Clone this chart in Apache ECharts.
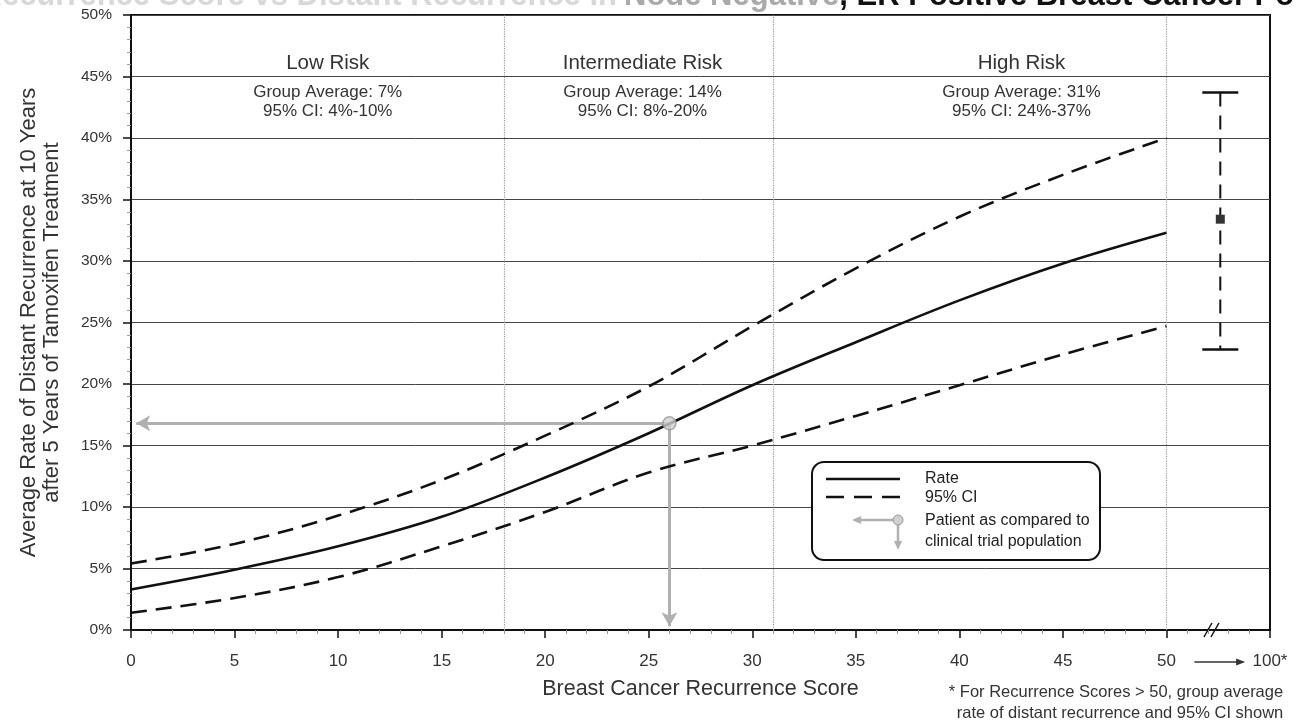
<!DOCTYPE html>
<html><head><meta charset="utf-8">
<script src="https://cdn.jsdelivr.net/npm/echarts@6/dist/echarts.min.js"></script>
<style>html,body{margin:0;padding:0;background:#fff}#c{width:1296px;height:727px}</style>
</head><body><div id="c"></div>
<script>
// ---- data ----
const scores   = [0, 5, 10, 15, 20, 25, 30, 35, 40, 45, 50];
const rate     = [3.3, 4.9, 6.8, 9.2, 12.4, 16.0, 19.9, 23.4, 26.8, 29.8, 32.3];
const ciUpper  = [5.4, 7.0, 9.3, 12.2, 15.8, 19.8, 24.7, 29.4, 33.6, 37.0, 40.0];
const ciLower  = [1.4, 2.6, 4.3, 6.8, 9.6, 12.8, 15.0, 17.4, 19.9, 22.4, 24.7];
const riskBoundaries = [18, 31, 50];
const riskNames = ['Low Risk', 'Intermediate Risk', 'High Risk'];
const riskAvg   = ['Group Average: 7%', 'Group Average: 14%', 'Group Average: 31%'];
const riskCI    = ['95% CI: 4%-10%', '95% CI: 8%-20%', '95% CI: 24%-37%'];
const patient   = [26, 16.8];
const over50    = [52.6, 22.8, 33.4, 43.7]; // x, low, mid, high
const yTicks    = [0, 5, 10, 15, 20, 25, 30, 35, 40, 45, 50];

const FONT = '"Liberation Sans", Arial, sans-serif';
const chart = echarts.init(document.getElementById('c'), null, {renderer: 'canvas'});
const pairs = a => scores.map((s, i) => [s, a[i]]);

chart.setOption({
  animation: false,
  textStyle: {fontFamily: FONT},
  grid: {left: 131, right: 26, top: 15, bottom: 97, containLabel: false, outerBoundsMode: 'none',
         show: true, borderColor: '#111', borderWidth: 2, backgroundColor: 'transparent'},
  xAxis: {
    type: 'value', min: 0, max: 55, interval: 5,
    name: 'Breast Cancer Recurrence Score', nameLocation: 'middle', nameGap: 48,
    nameTextStyle: {fontSize: 21.5, color: '#333', fontFamily: FONT},
    axisLine: {show: true, lineStyle: {color: '#111', width: 2}},
    axisTick: {show: true, length: 8, lineStyle: {color: '#111', width: 1.5}},
    minorTick: {show: true, splitNumber: 5, length: 4, lineStyle: {color: '#999'}},
    splitLine: {show: false},
    axisLabel: {fontSize: 17, color: '#333', margin: 23, fontFamily: FONT,
      formatter: v => v === 55 ? '100*' : String(v)}
  },
  yAxis: {
    type: 'value', min: 0, max: 50, interval: 5,
    name: 'Average Rate of Distant Recurrence at 10 Years\nafter 5 Years of Tamoxifen Treatment',
    nameLocation: 'middle', nameGap: 68, nameRotate: 90,
    nameTextStyle: {fontSize: 22, color: '#333', lineHeight: 23, fontFamily: FONT},
    axisLine: {show: true, lineStyle: {color: '#111', width: 2}},
    axisTick: {show: true, length: 8, lineStyle: {color: '#111', width: 1.5}},
    minorTick: {show: true, splitNumber: 5, length: 4, lineStyle: {color: '#999'}},
    splitLine: {show: true, lineStyle: {color: '#444', width: 1}},
    axisLabel: {fontSize: 15.5, color: '#333', margin: 19, fontFamily: FONT,
      formatter: v => yTicks.includes(v) ? v + '%' : ''}
  },
  series: [
    {
      name: 'Rate', type: 'line', data: pairs(rate), smooth: 0.35, symbol: 'none',
      lineStyle: {color: '#111', width: 2.6}, z: 5,
      markLine: {
        silent: true, symbol: ['none', 'none'], label: {show: false},
        lineStyle: {color: '#999', type: 'dotted', width: 1.2},
        data: riskBoundaries.map(b => [{coord: [b, 0]}, {coord: [b, 50]}])
      }
    },
    {
      name: '95% CI', type: 'line', data: pairs(ciUpper), smooth: 0.35, symbol: 'none',
      lineStyle: {color: '#111', width: 2.6, type: [16, 9]}, z: 5
    },
    {
      name: '95% CI low', type: 'line', data: pairs(ciLower), smooth: 0.35, symbol: 'none',
      lineStyle: {color: '#111', width: 2.6, type: [16, 9]}, z: 5
    },
    {
      name: 'Patient', type: 'scatter', data: [patient], symbol: 'circle', symbolSize: 13,
      itemStyle: {color: '#d0d0d0', borderColor: '#999', borderWidth: 1.5}, z: 8,
      markLine: {
        silent: true, symbol: ['none', 'arrow'], symbolSize: [12, 14], label: {show: false},
        lineStyle: {color: '#b0b0b0', width: 3, type: 'solid'},
        data: [
          [{coord: [patient[0], patient[1]]}, {coord: [0.25, patient[1]]}],
          [{coord: [patient[0], patient[1]]}, {coord: [patient[0], 0.3]}]
        ]
      }
    },
    {
      name: 'Over 50', type: 'custom', data: [over50], z: 6,
      renderItem: (params, api) => {
        const x = api.value(0);
        const lo = api.coord([x, api.value(1)]);
        const mid = api.coord([x, api.value(2)]);
        const hi = api.coord([x, api.value(3)]);
        const cap = 18;
        return {type: 'group', children: [
          {type: 'line', shape: {x1: hi[0], y1: hi[1], x2: lo[0], y2: lo[1]},
           style: {stroke: '#111', lineWidth: 2, lineDash: [14, 9]}},
          {type: 'line', shape: {x1: hi[0] - cap, y1: hi[1], x2: hi[0] + cap, y2: hi[1]},
           style: {stroke: '#111', lineWidth: 2.5}},
          {type: 'line', shape: {x1: lo[0] - cap, y1: lo[1], x2: lo[0] + cap, y2: lo[1]},
           style: {stroke: '#111', lineWidth: 2.5}},
          {type: 'rect', shape: {x: mid[0] - 4.5, y: mid[1] - 4.5, width: 9, height: 9},
           style: {fill: '#333'}}
        ]};
      }
    }
  ]
});

// ---- annotations positioned through the chart's scales ----
const riskLabelX = [9.5, 24.7, 43];
const px = (x, y) => chart.convertToPixel({gridIndex: 0}, [x, y]);
const g = [];
riskNames.forEach((n, i) => {
  const p1 = px(riskLabelX[i], 46.1), p2 = px(riskLabelX[i], 43.7), p3 = px(riskLabelX[i], 42.2);
  g.push({type: 'text', x: p1[0], y: p1[1], style: {text: n, font: '20.5px ' + FONT, fill: '#333', align: 'center', verticalAlign: 'middle'}});
  g.push({type: 'text', x: p2[0], y: p2[1], style: {text: riskAvg[i], font: '17px ' + FONT, fill: '#333', align: 'center', verticalAlign: 'middle'}});
  g.push({type: 'text', x: p3[0], y: p3[1], style: {text: riskCI[i], font: '17px ' + FONT, fill: '#333', align: 'center', verticalAlign: 'middle'}});
});
// axis break and arrow to 100*
const b0 = px(52.1, 0);
g.push({type: 'line', shape: {x1: b0[0] - 6, y1: b0[1] + 7, x2: b0[0] + 2, y2: b0[1] - 7}, style: {stroke: '#111', lineWidth: 1.5}});
g.push({type: 'line', shape: {x1: b0[0] + 1, y1: b0[1] + 7, x2: b0[0] + 9, y2: b0[1] - 7}, style: {stroke: '#111', lineWidth: 1.5}});
const a0 = px(51.35, 0), a1 = px(53.8, 0);
const ay = a0[1] + 32;
g.push({type: 'line', shape: {x1: a0[0], y1: ay, x2: a1[0] - 2, y2: ay}, style: {stroke: '#333', lineWidth: 1.3}});
g.push({type: 'polygon', shape: {points: [[a1[0], ay], [a1[0] - 9, ay - 3.5], [a1[0] - 9, ay + 3.5]]}, style: {fill: '#333'}});
// footnote
g.push({type: 'text', x: 1116, y: 692, style: {text: '* For Recurrence Scores > 50, group average', font: '16.5px ' + FONT, fill: '#333', align: 'center', verticalAlign: 'middle'}});
g.push({type: 'text', x: 1120, y: 713, style: {text: 'rate of distant recurrence and 95% CI shown', font: '16.5px ' + FONT, fill: '#333', align: 'center', verticalAlign: 'middle'}});
// legend box
g.push({type: 'rect', shape: {x: 812, y: 462, width: 288, height: 98, r: 12}, style: {fill: '#fff', stroke: '#111', lineWidth: 2}, z: 10});
g.push({type: 'line', shape: {x1: 826, y1: 479, x2: 900, y2: 479}, style: {stroke: '#111', lineWidth: 2.4}, z: 11});
g.push({type: 'line', shape: {x1: 826, y1: 497, x2: 900, y2: 497}, style: {stroke: '#111', lineWidth: 2.4, lineDash: [18, 10]}, z: 11});
g.push({type: 'line', shape: {x1: 856, y1: 520, x2: 896, y2: 520}, style: {stroke: '#b0b0b0', lineWidth: 2.5}, z: 11});
g.push({type: 'polygon', shape: {points: [[852, 520], [861, 516], [861, 524]]}, style: {fill: '#b0b0b0'}, z: 11});
g.push({type: 'line', shape: {x1: 898, y1: 520, x2: 898, y2: 544}, style: {stroke: '#b0b0b0', lineWidth: 2.5}, z: 11});
g.push({type: 'polygon', shape: {points: [[898, 550], [894, 541], [902, 541]]}, style: {fill: '#b0b0b0'}, z: 11});
g.push({type: 'circle', shape: {cx: 898, cy: 520, r: 5}, style: {fill: '#d0d0d0', stroke: '#999', lineWidth: 1}, z: 12});
[['Rate', 479], ['95% CI', 498], ['Patient as compared to', 521], ['clinical trial population', 542]].forEach(([t, y]) => {
  g.push({type: 'text', x: 925, y: y, style: {text: t, font: '16px ' + FONT, fill: '#222', align: 'left', verticalAlign: 'middle'}, z: 11});
});
// title (cut off at top edge, as in the reference)
g.push({type: 'text', x: 617, y: -4, style: {text: 'Breast Cancer Recurrence Score vs Distant Recurrence in', font: 'bold 31px ' + FONT, fill: '#d8d8d8', align: 'right', verticalAlign: 'middle'}});
g.push({type: 'text', x: 624, y: -4, style: {
  text: '{a|Node Negative}{b|, ER Positive Breast Cancer Population}',
  rich: {a: {font: 'bold 31px ' + FONT, fill: '#aaa'}, b: {font: 'bold 31px ' + FONT, fill: '#111'}},
  align: 'left', verticalAlign: 'middle'}});
chart.setOption({graphic: g});
</script>
</body></html>
